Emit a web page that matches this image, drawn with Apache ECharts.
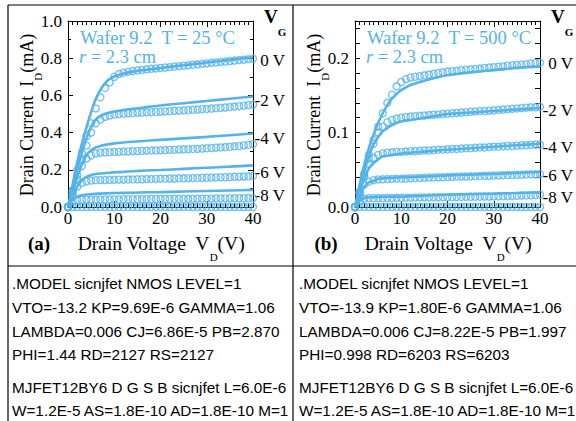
<!DOCTYPE html>
<html>
<head>
<meta charset="utf-8">
<script src="https://cdn.jsdelivr.net/npm/echarts@6/dist/echarts.min.js"></script>
<style>
html, body { margin: 0; padding: 0; background: #fff; }
#chart { width: 576px; height: 421px; }
</style>
</head>
<body>
<div id="chart"></div>
<script>
// drain voltage of the measured points (circles), V
const vdMeas = [0,1,2,3,4,5,6,7,8,9,10,11,12,13,14,15,16,17,18,19,20,
  21,22,23,24,25,26,27,28,29,30,31,32,33,34,35,36,37,38,39,40];
// drain voltage of the SPICE fit curves, V
const vdFit = [0,1,2,3,4,5,6,7,8,9,10,12,14,17,20,25,30,35,40];
const gateLabels = ['0 V', '-2 V', '-4 V', '-6 V', '-8 V'];

// (a) T = 25 °C, measured ID (mA)
const a0Meas = [0,0.09,0.20,0.29,0.38,0.45,0.53,0.59,0.64,0.67,0.70,0.715,0.722,0.727,0.731,0.734,0.737,0.740,0.743,0.745,0.748,
  0.750,0.752,0.755,0.757,0.760,0.762,0.765,0.767,0.770,0.772,0.775,0.777,0.780,0.782,0.785,0.787,0.790,0.792,0.795,0.797];
const a2Meas = [0,0.08,0.17,0.25,0.33,0.40,0.45,0.47,0.485,0.492,0.497,0.500,0.502,0.504,0.505,0.507,0.508,0.509,0.510,0.511,0.512,
  0.514,0.515,0.517,0.518,0.520,0.521,0.523,0.524,0.526,0.527,0.529,0.531,0.533,0.535,0.537,0.540,0.542,0.545,0.548,0.551];
const a4Meas = [0,0.07,0.15,0.22,0.26,0.278,0.288,0.292,0.294,0.295,0.296,0.297,0.298,0.299,0.300,0.301,0.302,0.303,0.304,0.304,0.305,
  0.306,0.307,0.308,0.309,0.310,0.311,0.312,0.313,0.314,0.316,0.317,0.319,0.320,0.322,0.324,0.326,0.328,0.331,0.334,0.338];
const a6Meas = [0,0.06,0.11,0.13,0.138,0.142,0.144,0.145,0.145,0.146,0.146,0.147,0.147,0.148,0.148,0.149,0.149,0.150,0.150,0.151,0.152,
  0.152,0.153,0.153,0.154,0.154,0.155,0.155,0.156,0.157,0.157,0.158,0.159,0.160,0.160,0.161,0.162,0.163,0.164,0.165,0.167];
const a8Meas = [0,0.03,0.037,0.039,0.040,0.040,0.040,0.041,0.041,0.041,0.041,0.041,0.042,0.042,0.042,0.042,0.042,0.042,0.043,0.043,0.043,
  0.043,0.043,0.044,0.044,0.044,0.044,0.044,0.045,0.045,0.045,0.045,0.046,0.046,0.046,0.046,0.047,0.047,0.047,0.048,0.048];
const cutoffMeas = [0,0,0,0,0,0,0,0,0,0,0,0,0,0,0,0,0,0,0,0,0,
  0,0,0,0,0,0,0,0,0,0,0,0,0,0,0,0,0,0,0,0];

// (a) SPICE fit ID (mA)
const a0Fit = [0,0.12,0.24,0.34,0.43,0.51,0.58,0.63,0.665,0.688,0.702,0.718,0.728,0.738,0.747,0.762,0.777,0.791,0.806];
const a2Fit = [0,0.10,0.20,0.29,0.37,0.43,0.47,0.49,0.50,0.507,0.513,0.521,0.528,0.537,0.546,0.558,0.570,0.582,0.594];
const a4Fit = [0,0.08,0.16,0.23,0.28,0.305,0.32,0.328,0.334,0.338,0.342,0.347,0.351,0.356,0.361,0.369,0.377,0.386,0.395];
const a6Fit = [0,0.06,0.11,0.145,0.162,0.172,0.177,0.18,0.182,0.184,0.186,0.189,0.192,0.196,0.199,0.205,0.211,0.217,0.224];
const a8Fit = [0,0.035,0.055,0.063,0.067,0.069,0.071,0.072,0.073,0.074,0.075,0.076,0.077,0.079,0.080,0.083,0.086,0.089,0.092];

// (b) T = 500 °C, measured ID (mA)
const b0Meas = [0,0.02,0.045,0.07,0.09,0.108,0.126,0.14,0.151,0.162,0.168,0.172,0.174,0.175,0.176,0.177,0.178,0.179,0.180,0.181,0.182,
  0.1825,0.183,0.184,0.1845,0.185,0.1855,0.186,0.187,0.1875,0.188,0.1885,0.189,0.190,0.1905,0.191,0.1915,0.192,0.193,0.1935,0.194];
const b2Meas = [0,0.02,0.042,0.065,0.085,0.10,0.108,0.114,0.117,0.119,0.120,0.121,0.1215,0.122,0.1225,0.123,0.1235,0.124,0.1245,0.125,0.1255,
  0.126,0.1265,0.127,0.1275,0.128,0.1285,0.129,0.129,0.1295,0.130,0.1305,0.131,0.1315,0.132,0.1325,0.133,0.1335,0.134,0.134,0.1345];
const b4Meas = [0,0.018,0.04,0.058,0.066,0.070,0.072,0.073,0.0735,0.074,0.074,0.0745,0.075,0.075,0.0755,0.076,0.076,0.0765,0.077,0.077,0.0775,
  0.078,0.078,0.0785,0.079,0.079,0.0795,0.080,0.080,0.0805,0.081,0.081,0.0815,0.082,0.082,0.0825,0.083,0.083,0.0835,0.084,0.084];
const b6Meas = [0,0.015,0.03,0.034,0.036,0.037,0.0372,0.0375,0.0378,0.038,0.038,0.0382,0.0385,0.0388,0.039,0.0392,0.0395,0.0397,0.04,0.04,0.0402,
  0.0405,0.0407,0.041,0.041,0.0412,0.0415,0.0417,0.042,0.042,0.0422,0.0425,0.0427,0.043,0.043,0.0432,0.0435,0.0437,0.044,0.044,0.0443];
const b8Meas = [0,0.008,0.011,0.012,0.012,0.012,0.012,0.0122,0.0122,0.0124,0.0124,0.0125,0.0126,0.0127,0.0128,0.0129,0.013,0.013,0.0131,0.0132,0.0132,
  0.0133,0.0134,0.0135,0.0136,0.0137,0.0138,0.0139,0.014,0.0141,0.0142,0.0143,0.0145,0.0147,0.0149,0.0151,0.0153,0.0155,0.0158,0.0161,0.0165];

// (b) SPICE fit ID (mA)
const b0Fit = [0,0.03,0.057,0.079,0.097,0.113,0.126,0.137,0.146,0.152,0.157,0.164,0.168,0.173,0.177,0.181,0.184,0.187,0.189];
const b2Fit = [0,0.025,0.048,0.068,0.084,0.094,0.102,0.106,0.110,0.113,0.115,0.117,0.119,0.122,0.125,0.127,0.129,0.131,0.133];
const b4Fit = [0,0.02,0.038,0.052,0.059,0.064,0.068,0.069,0.070,0.071,0.072,0.073,0.074,0.0755,0.077,0.079,0.081,0.083,0.085];
const b6Fit = [0,0.015,0.027,0.033,0.035,0.038,0.0385,0.039,0.0393,0.0396,0.040,0.0403,0.0408,0.0415,0.0425,0.0435,0.0445,0.0458,0.047];
const b8Fit = [0,0.008,0.012,0.013,0.0133,0.0135,0.0137,0.0138,0.0139,0.014,0.014,0.0145,0.015,0.0158,0.0165,0.0173,0.018,0.0188,0.0197];

const modelA = ['.MODEL sicnjfet NMOS LEVEL=1', 'VTO=-13.2 KP=9.69E-6 GAMMA=1.06',
  'LAMBDA=0.006 CJ=6.86E-5 PB=2.870', 'PHI=1.44 RD=2127 RS=2127'];
const modelB = ['.MODEL sicnjfet NMOS LEVEL=1', 'VTO=-13.9 KP=1.80E-6 GAMMA=1.06',
  'LAMBDA=0.006 CJ=8.22E-5 PB=1.997', 'PHI=0.998 RD=6203 RS=6203'];
const instLines = ['MJFET12BY6 D G S B sicnjfet L=6.0E-6', 'W=1.2E-5 AS=1.8E-10 AD=1.8E-10 M=1'];

const BLUE = '#55b3ea';
const SERIF = '"Liberation Serif", "Times New Roman", serif';
const SANS = '"Liberation Sans", Arial, sans-serif';

const pairs = (xs, ys) => xs.map((x, i) => [x, ys[i]]);

const panels = [
  { left: 68, tag: '(a)', temp: 'Wafer 9.2  T = 25 °C', max: 1.0, interval: 0.2, minor: 2,
    fits: [a0Fit, a2Fit, a4Fit, a6Fit, a8Fit], meas: [a0Meas, a2Meas, a4Meas, a6Meas, a8Meas],
    labelY: [60, 100, 138, 172, 195], rightX: 285, model: modelA, textX: 12 },
  { left: 355, tag: '(b)', temp: 'Wafer 9.2  T = 500 °C', max: 0.25, interval: 0.02, minor: 0,
    fits: [b0Fit, b2Fit, b4Fit, b6Fit, b8Fit], meas: [b0Meas, b2Meas, b4Meas, b6Meas, b8Meas],
    labelY: [63, 110, 147, 175, 197], rightX: 573, model: modelB, textX: 299 }
];

const grids = [], xAxes = [], yAxes = [], series = [], graphics = [];
const tickStyle = { color: '#000', width: 1 };

panels.forEach((p, i) => {
  grids.push({ left: p.left, top: 21, width: 185, height: 186 });
  const xBase = { type: 'value', gridIndex: i, min: 0, max: 40, interval: 10,
    axisLine: { onZero: false, lineStyle: tickStyle },
    axisTick: { inside: true, length: 6, lineStyle: tickStyle },
    minorTick: { show: true, splitNumber: 10, length: 4, lineStyle: tickStyle },
    splitLine: { show: false } };
  xAxes.push(Object.assign({}, xBase, { position: 'bottom',
    axisLabel: { color: '#000', fontFamily: SERIF, fontSize: 17, margin: 3 } }));
  xAxes.push(Object.assign({}, xBase, { position: 'top', axisLabel: { show: false } }));

  const yBase = { type: 'value', gridIndex: i, min: 0, max: p.max, interval: p.interval,
    axisLine: { show: true, onZero: false, lineStyle: tickStyle },
    axisTick: { show: true, inside: true, length: 5, lineStyle: tickStyle },
    minorTick: { show: p.minor > 0, splitNumber: p.minor || 2, length: 3, lineStyle: tickStyle },
    splitLine: { show: false } };
  yAxes.push(Object.assign({}, yBase, { position: 'left',
    axisLabel: { color: '#000', fontFamily: SERIF, fontSize: 17, margin: 6, showMaxLabel: i === 0,
      formatter: v => (Math.abs(v * 10 - Math.round(v * 10)) < 1e-6 ? v.toFixed(1) : '') } }));
  yAxes.push(Object.assign({}, yBase, { position: 'right', axisLabel: { show: false } }));

  const xi = i * 2, yi = i * 2;
  p.fits.forEach((f, k) => series.push({ type: 'line', name: gateLabels[k] + ' fit',
    xAxisIndex: xi, yAxisIndex: yi, data: pairs(vdFit, f), smooth: 0.3, showSymbol: false,
    lineStyle: { color: BLUE, width: 2.6 }, z: 2, silent: true }));
  p.meas.concat([cutoffMeas]).forEach((m, k) => series.push({ type: 'scatter',
    name: (gateLabels[k] || 'off') + ' meas', xAxisIndex: xi, yAxisIndex: yi,
    data: pairs(vdMeas, m), symbol: 'circle', symbolSize: 7,
    itemStyle: { color: 'rgba(0,0,0,0)', borderColor: BLUE, borderWidth: 1.4 }, z: 3, silent: true }));

  const cx = p.left + 92;
  // y axis title
  graphics.push({ type: 'text', x: p.left - 41, y: 115, rotation: Math.PI / 2,
    style: { text: 'Drain Current  I{s|D}(mA)', fontFamily: SERIF, fontSize: 18, fill: '#000',
      align: 'center', verticalAlign: 'middle',
      rich: { s: { fontSize: 11, lineHeight: 11, verticalAlign: 'bottom', fontFamily: SERIF } },
      lineHeight: 32 } });
  // x axis title
  graphics.push({ type: 'text', x: cx + 1, y: 243,
    style: { text: 'Drain Voltage  V{s|D}(V)', fontFamily: SERIF, fontSize: 19.5, fill: '#000',
      align: 'center', verticalAlign: 'middle',
      rich: { s: { fontSize: 11, lineHeight: 11, verticalAlign: 'bottom', fontFamily: SERIF } },
      lineHeight: 38 } });
  graphics.push({ type: 'text', x: p.left - 29, y: 243,
    style: { text: p.tag, fontFamily: SERIF, fontSize: 19, fontWeight: 'bold', fill: '#000',
      align: 'center', verticalAlign: 'middle' } });
  // annotation
  graphics.push({ type: 'text', x: p.left + 12, y: 38,
    style: { text: p.temp, fontFamily: SERIF, fontSize: 18.5, fill: BLUE, verticalAlign: 'middle' } });
  graphics.push({ type: 'text', x: p.left + 11, y: 57,
    style: { text: '{i|r} = 2.3 cm', fontFamily: SERIF, fontSize: 18.5, fill: BLUE, verticalAlign: 'middle',
      rich: { i: { fontStyle: 'italic', fontFamily: SERIF, fontSize: 18.5, fill: BLUE } } } });
  // VG header
  graphics.push({ type: 'text', x: p.left + 196, y: 16,
    style: { text: 'V{g|G}', fontFamily: SERIF, fontSize: 19, fontWeight: 'bold', fill: '#000',
      verticalAlign: 'middle', lineHeight: 42,
      rich: { g: { fontSize: 11, lineHeight: 11, verticalAlign: 'bottom', fontWeight: 'bold', fontFamily: SERIF } } } });
  gateLabels.forEach((g, k) => graphics.push({ type: 'text', x: p.rightX, y: p.labelY[k],
    style: { text: g, fontFamily: SERIF, fontSize: 17, fill: '#000', align: 'right', verticalAlign: 'middle' } }));
  // SPICE model text
  p.model.concat(['']).concat(instLines).forEach((t, k) => graphics.push({ type: 'text',
    x: p.textX, y: [283, 307, 331, 354, 0, 387, 410][k],
    style: { text: t, fontFamily: SANS, fontSize: 15.3, fill: '#000', verticalAlign: 'middle' } }));
});

// frame lines
[[8, 5, 576, 5], [8, 5, 8, 421], [293, 5, 293, 421], [8, 266, 576, 266]].forEach(l =>
  graphics.push({ type: 'line', shape: { x1: l[0], y1: l[1], x2: l[2], y2: l[3] },
    style: { stroke: '#000', lineWidth: 1.2 } }));

const chart = echarts.init(document.getElementById('chart'), null, { renderer: 'svg' });
chart.setOption({
  animation: false,
  backgroundColor: '#fff',
  grid: grids,
  xAxis: xAxes,
  yAxis: yAxes,
  series: series,
  graphic: graphics
});
</script>
</body>
</html>
